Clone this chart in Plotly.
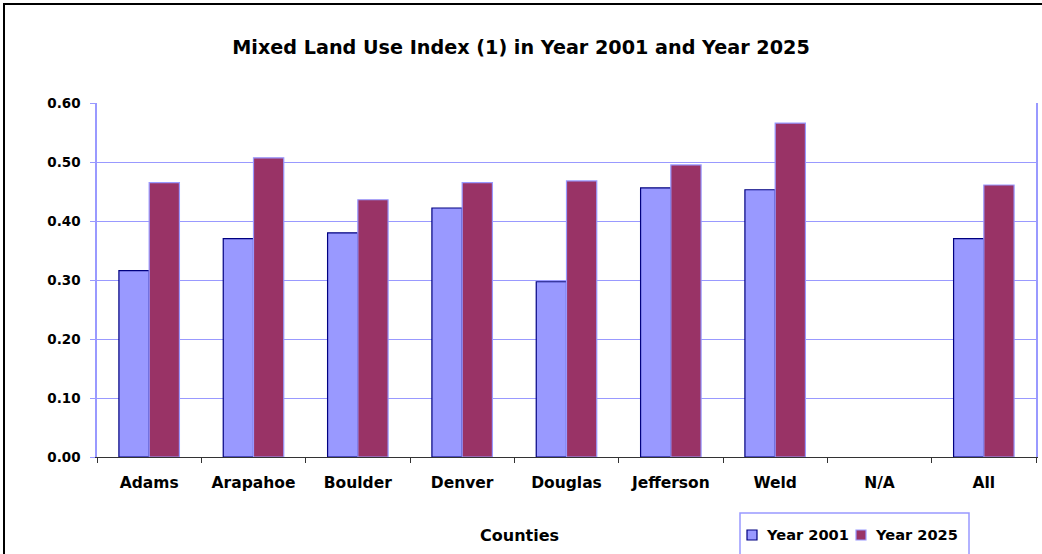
import plotly.graph_objects as go

categories = ["Adams", "Arapahoe", "Boulder", "Denver", "Douglas", "Jefferson", "Weld", "N/A", "All"]
year_2001 = [0.316, 0.370, 0.380, 0.422, 0.297, 0.456, 0.453, None, 0.370]
year_2025 = [0.465, 0.507, 0.436, 0.465, 0.468, 0.495, 0.566, None, 0.461]
y_ticks = [0.0, 0.1, 0.2, 0.3, 0.4, 0.5, 0.6]
series_names = ["Year 2001", "Year 2025"]
fills = ["#9999FF", "#993366"]
edges = ["#000080", "#9999FF"]

W, H = 1042, 554
L, R, T, B = 97, 6, 103, 97
pw, ph = W - L - R, H - T - B
FAM = "DejaVu Sans, Verdana, sans-serif"

def px_x(p):
    return (p - L) / pw

def px_y(p):
    return (H - B - p) / ph

fig = go.Figure()
for name, vals, fc, ec in zip(series_names, [year_2001, year_2025], fills, edges):
    fig.add_trace(go.Bar(x=categories, y=vals, name=name,
                         marker=dict(color=fc, line=dict(color=ec, width=1.2))))

fig.update_layout(
    width=W, height=H,
    margin=dict(l=L, r=R, t=T, b=B, autoexpand=False),
    paper_bgcolor="white", plot_bgcolor="white",
    barmode="group", bargap=0.42, bargroupgap=0,
    font=dict(family=FAM, size=13, color="black"),
    title=dict(text="<b>Mixed Land Use Index (1) in Year 2001 and Year 2025</b>",
               x=0.5, xref="container", xanchor="center",
               y=1 - 47 / H, yref="container", yanchor="middle",
               font=dict(family=FAM, size=19.2, color="black")),
    showlegend=False,
)

fig.update_xaxes(
    type="category", tickson="boundaries", ticks="outside", ticklen=5, tickcolor="#333333",
    showline=True, linecolor="#333333", linewidth=1.2, showgrid=False, automargin=False,
    tickfont=dict(family=FAM, size=15.5, color="black"),
    ticklabelstandoff=11,
    tickvals=categories, ticktext=["<b>%s</b>" % c for c in categories],
)
fig.update_yaxes(
    range=[0, 0.6], tickvals=y_ticks, ticktext=["<b>%.2f</b>" % v for v in y_ticks],
    ticks="outside", ticklen=5, tickcolor="#9999FF", automargin=False,
    showline=True, linecolor="#9999FF", linewidth=1.5, mirror=True,
    showgrid=True, gridcolor="#9999FF", gridwidth=1.2, zeroline=False,
    tickfont=dict(family=FAM, size=13.5, color="black"),
    ticklabelstandoff=7,
)

# axis title
fig.add_annotation(text="<b>Counties</b>", xref="paper", yref="paper",
                   x=px_x(519), y=px_y(535), xanchor="center", yanchor="middle",
                   showarrow=False, font=dict(family=FAM, size=16, color="black"))

# outer chart frame
fig.add_shape(type="rect", xref="paper", yref="paper",
              x0=px_x(4), x1=px_x(1050), y0=px_y(562), y1=px_y(4),
              line=dict(color="black", width=2), layer="below")

# legend box
fig.add_shape(type="rect", xref="paper", yref="paper",
              x0=px_x(740), x1=px_x(969), y0=px_y(560), y1=px_y(513),
              line=dict(color="#9999FF", width=1.5), fillcolor="white", layer="above")
sq_x = [747, 856]
txt_x = [764, 873]
for name, fc, ec, sx, tx in zip(series_names, fills, edges, sq_x, txt_x):
    fig.add_shape(type="rect", xref="paper", yref="paper",
                  x0=px_x(sx), x1=px_x(sx + 10), y0=px_y(540), y1=px_y(530),
                  line=dict(color=ec, width=1.2), fillcolor=fc, layer="above")
    fig.add_annotation(text="<b>%s</b>" % name, xref="paper", yref="paper",
                       x=px_x(tx), y=px_y(534), xanchor="left", yanchor="middle",
                       showarrow=False, font=dict(family=FAM, size=14.6, color="black"))

fig.write_html("out.html", config={"displayModeBar": False},
               post_script="document.body.style.margin='0px';document.body.style.overflow='hidden';")
